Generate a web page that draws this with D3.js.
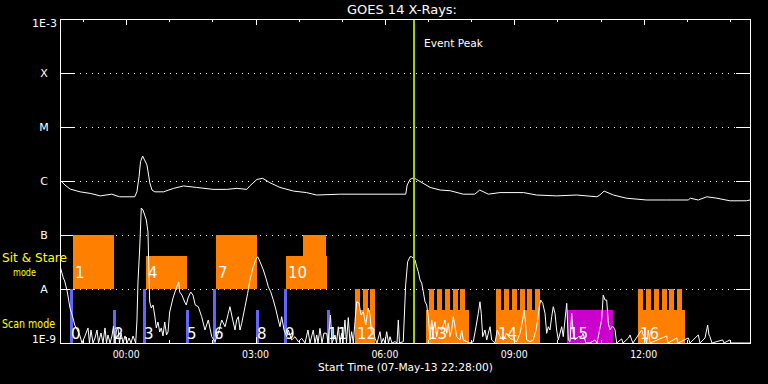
<!DOCTYPE html>
<html><head><meta charset="utf-8">
<script src="https://cdn.jsdelivr.net/npm/d3@7"></script>
<style>
body{margin:0;background:#000;}
svg{display:block;background:#000;}
text{font-family:"DejaVu Sans",sans-serif;fill:#fff;}
</style>
</head><body>
<svg id="chart" width="768" height="384"></svg>
<script>
// ---------------- DATA ----------------
const titleText = "GOES 14 X-Rays:";
const startTime = "2013-05-07T22:28:00Z";
const spanMinutes = 960;               // plotted range, minutes after start
const xAxisTitle = "Start Time (07-May-13 22:28:00)";
const levelLabels = ["1E-9", "A", "B", "C", "M", "X", "1E-3"];
const levelValues = [1e-9, 1e-8, 1e-7, 1e-6, 1e-5, 1e-4, 1e-3];
const eventPeakMinute = 491;
const eventLabel = "Event Peak";
const modeLabels = ["Sit & Stare", "mode", "Scan mode"];

// GOES long channel (1-8 A): [minutes after start, W/m^2]
const longChannel = [[1,1.01e-6],[7,8.4e-7],[14,7.1e-7],[28,6.3e-7],[42,5.9e-7],[56,5.3e-7],[72,5.7e-7],[83,5.1e-7],[104,5.1e-7],[107,6.3e-7],
[110,1.2e-6],[112,2.28e-6],[115,2.9e-6],[117,2.55e-6],[121,1.98e-6],[125,9.2e-7],[128,6.8e-7],[132,6.3e-7],[144,6.3e-7],[158,7.3e-7],
[172,8.1e-7],[190,7.6e-7],[213,7.0e-7],[232,7.0e-7],[246,7.3e-7],[260,7.0e-7],[264,8.1e-7],[274,1.07e-6],[282,1.12e-6],[292,9.3e-7],
[306,7.6e-7],[325,6.5e-7],[343,6.1e-7],[357,5.5e-7],[390,5.7e-7],[473,5.7e-7],[481,5.7e-7],[483,8.4e-7],[487,1.07e-6],[492,1.15e-6],
[496,1.07e-6],[505,9.1e-7],[515,7.6e-7],[529,6.8e-7],[543,6.6e-7],[561,5.7e-7],[577,5.7e-7],[584,6.8e-7],[596,5.7e-7],[612,6.1e-7],
[645,6.1e-7],[663,5.5e-7],[691,5.3e-7],[719,5.5e-7],[747,5.1e-7],[751,5.5e-7],[757,6.5e-7],[770,5.5e-7],[788,4.8e-7],[816,4.45e-7],
[844,4.45e-7],[874,4.45e-7],[877,4.8e-7],[888,4.45e-7],[900,5.1e-7],[914,4.8e-7],[932,4.3e-7],[955,4.3e-7],[960,4.45e-7]];

// GOES short channel (0.5-4 A): [minutes after start, W/m^2]
const shortChannel = [[1,2.4e-8],[4.6,1.6e-8],[6.5,1.41e-8],[10.2,8.8e-9],[13.9,4.45e-9],[18.1,2.9e-9],[20.5,2.15e-9],[22.7,1.9e-9],[27.4,1.41e-9],
[30.6,1e-9],[34.8,1.35e-9],[39,1.9e-9],[41,1e-9],[43.1,1.74e-9],[45.9,1e-9],[48.7,1.24e-9],[51.5,1.74e-9],[53.6,1e-9],[57,1.53e-9],[59.8,1e-9],[62.6,1.9e-9],[64.7,1e-9],[66.8,1.41e-9],[69.6,1e-9],[72.3,1.35e-9],[74.4,2.06e-9],[76.5,1e-9],[78.6,1.74e-9],[80.7,1.9e-9],[82.8,1e-9],[84.9,1.53e-9],[87.7,1e-9],[90.4,1.35e-9],[93.2,1e-9],[96,1.24e-9],[98.8,1e-9],[101.6,1.35e-9],[105.3,1e-9],
[107.1,2.67e-9],[108.5,1.35e-8],[110.9,5.74e-8],[113.1,3.16e-7],[115.5,2.9e-7],[117.8,2.35e-7],[120.1,1.9e-7],[122.4,1.14e-7],[123.4,3.16e-8],[124.8,5.74e-9],[127,4.45e-9],[129.4,5.05e-9],[131.7,3.3e-9],[134,1.9e-9],[136.3,2.45e-9],[138.7,1.6e-9],[140.9,1.9e-9],[143.3,1.35e-9],[145.7,2.45e-9],[148.2,1.41e-9],[150.3,1.6e-9],[152.6,3.75e-9],[157.2,6.8e-9],[161.8,1.04e-8],[165.1,1.35e-8],[166.5,8.8e-9],[169.7,7.7e-9],[173.5,5.74e-9],[175.7,5.05e-9],[178.1,6.8e-9],[181.8,8.8e-9],[185,7.7e-9],[188.2,5.05e-9],[192.4,4.7e-9],[197.1,3.07e-9],[201.7,1.74e-9],[206.3,2.67e-9],[211.1,1.31e-9],[215.7,1.06e-9],[220.2,1.51e-9],[225,2.67e-9],[229.6,2e-9],[234.2,3.55e-9],[236.5,4.7e-9],[240.3,2.67e-9],[243.5,1.74e-9],[245.8,2.67e-9],[248.1,3.07e-9],[250.4,1.74e-9],[252.8,2.3e-9],[257.4,4.7e-9],[261.1,8.3e-9],[264.3,1.47e-8],[268.9,2.59e-8],[272.7,3.55e-8],[275.1,3.96e-8],[278.3,3.2e-8],[282.9,2.25e-8],[286.6,1.58e-8],[289.8,1.1e-8],[293.1,8.9e-9],[296.8,6.25e-9],[300.5,4.1e-9],[303.7,2.67e-9],[306.1,2e-9],[308.4,3.07e-9],[311.7,1.74e-9],[315.4,1.31e-9],[317.6,1.74e-9],[322.4,1.14e-9],[327,1.31e-9],[331.5,1.06e-9],[336.3,1.22e-9],[340.9,1e-9],
[345,1.74e-9],[347.8,1e-9],[352.4,1.74e-9],[354.8,1e-9],[357.2,1.41e-9],[359,1e-9],[361.7,1.87e-9],[364.5,1e-9],[367.3,1.53e-9],[371.1,1.51e-9],[372.9,1e-9],[376.3,3.3e-9],[378.4,1e-9],[382.6,1.41e-9],[384.7,1e-9],[387.2,2e-9],[389.6,1e-9],[391.9,1.51e-9],[393.7,1e-9],[396.5,2.67e-9],[398.6,1e-9],[401.1,2.96e-9],[403.5,1e-9],[405.8,1.62e-9],[408.1,1e-9],[410.4,2.48e-9],[412.8,5.8e-9],[416,5.5e-9],[418.8,3.3e-9],[422,3.8e-9],[425.3,2.15e-9],[428.9,4.45e-9],[431.3,3.3e-9],[433.6,1.41e-9],[435.9,1.74e-9],[438.3,1.22e-9],[441,1e-9],[445.2,1.62e-9],[447.3,1e-9],[449.8,1.22e-9],[452.2,1e-9],[454.5,1.62e-9],[457,1e-9],[459.1,1.31e-9],[461.9,1e-9],[466.1,1.06e-9],[468.9,1e-9],[470.7,2.67e-9],[472.3,1e-9],[477.6,1.06e-9],
[480.9,1.19e-8],[483.7,3.2e-8],[487,3.96e-8],[489.3,3.96e-8],[493.9,3.45e-8],[496.3,2.59e-8],[498.5,2.09e-8],[500.9,1.47e-8],[503.2,1.28e-8],[505.5,8.9e-9],[507.8,5.8e-9],[510.2,5.05e-9],[512.4,3.07e-9],[514.8,1.14e-9],[517.1,2.67e-9],[519.4,1.74e-9],[521.7,2.48e-9],[524.1,1.31e-9],[526.3,2e-9],[531.1,1.74e-9],[535.6,2.67e-9],[538,1.51e-9],[540.2,2.32e-9],[542.6,1.31e-9],[545,1.74e-9],[547.2,3.07e-9],[549.6,2e-9],[551.9,1.31e-9],[556.5,1.14e-9],[558.9,1.74e-9],[561.1,1.14e-9],[565.8,1.06e-9],[570.4,1e-9],[575,1.06e-9],[578.8,2e-9],[582,3.55e-9],[584.3,5.8e-9],[586.1,3.55e-9],[588.1,1.31e-9],[591.3,1.74e-9],[593.7,1.14e-9],[595.9,1.51e-9],[598.3,2e-9],[600.6,1.14e-9],[605.2,1e-9],[608.4,1.74e-9],[612.2,1.31e-9],[616.8,1.14e-9],[621.5,1.51e-9],[626.1,1.22e-9],[630.7,1.14e-9],[635.4,1.06e-9],[640,1.51e-9],[643.8,2.67e-9],[645.6,4.1e-9],[647.4,2.67e-9],[649.3,1.14e-9],[653.9,1.06e-9],[658.5,1.14e-9],[662.3,1.74e-9],[664.6,2.67e-9],[666.9,4.7e-9],[668.8,6.25e-9],[671.6,5.45e-9],[674.8,3.55e-9],[677.1,1.51e-9],[679.4,2e-9],[681.7,1.74e-9],[684.1,3.07e-9],[686.3,4.7e-9],[688.7,3.55e-9],[691,1.74e-9],[693.3,1.14e-9],[698,2e-9],[700.2,1.31e-9],[702.6,2.67e-9],[705,5.45e-9],[707.2,1.14e-9],[709.6,1.06e-9],[711.9,3.55e-9],[714.2,1.51e-9],[716.5,1.14e-9],[721.1,1.31e-9],[725.8,1.31e-9],[727.7,1.51e-9],[731.8,1e-9],[737.4,1e-9],[744.3,1.14e-9],[747.1,1e-9],
[753.6,2.67e-9],[755.8,7.7e-9],[758.3,6.25e-9],[760.6,6.25e-9],[762.9,2.32e-9],[765.2,1.74e-9],[767.6,2e-9],[769.8,2e-9],[772.2,1.74e-9],[774.5,1e-9],[781.5,1.19e-9],[783.3,1e-9],[791,1.24e-9],[793.1,1.41e-9],[795.4,1.14e-9],[797.2,1e-9],[809.3,1.74e-9],[811.8,1.35e-9],[813.9,1.31e-9],[816,1e-9],[818.5,1.74e-9],[820.9,1e-9],[844.1,1.35e-9],[845.9,1e-9],[858,1.24e-9],[859.8,1e-9],[874.1,1.24e-9],[876.5,1e-9],[888.1,1.41e-9],[890.4,1e-9],[897.4,1.24e-9],[901.1,2.15e-9],[902.9,1.41e-9],[904.3,1.31e-9],[907.1,1e-9],[922,1.14e-9],[923.8,1e-9],[932.1,1.14e-9],[933.5,1e-9],[960,1e-9]];

// Scan-mode observations (blue)
const scanLabels = ["0", "2", "3", "5", "6", "8", "9", "11"];
const scanStart  = [14, 74, 116, 175, 213, 273, 312, 372];
const scanEnd    = [18, 78, 120, 179, 217, 277, 316, 376];
const scanTop    = [1e-8, 4.1e-9, 1e-8, 4.1e-9, 1e-8, 4.1e-9, 1e-8, 4.1e-9];

// Sit & stare observations (orange)
const stareLabels = ["1", "4", "7", "10"];
const stareStart  = [18, 120, 217, 314];
const stareEnd    = [75, 177, 274, 372];
const stareTop    = [1e-7, 4.1e-8, 1e-7, 4.1e-8];
const stareExtraStart = [338];
const stareExtraEnd   = [370];
const stareExtraTop   = [1e-7];

// Repeated short pointings (orange combs)
const combLabels = ["12", "13", "14", "16"];
const combStart  = [410, 509, 607, 804];
const combEnd    = [438, 569, 668, 870];
const combBase   = 4.1e-9;
const combTop    = 1e-8;
const combTeeth  = [[410, 422, 431], [513, 525, 536, 547, 557], [607, 618, 629, 640, 650, 661], [804, 815, 826, 838, 847, 858]];
const toothMinutes = 7;

// Other observation (magenta)
const otherLabels = ["15"];
const otherStart  = [705];
const otherEnd    = [769];
const otherTop    = [4.1e-9];

// ---------------- DRAW ----------------
const svg = d3.select("#chart");
const L = 60, R = 750, T = 19, B = 343;
const t0 = new Date(startTime);
const toDate = m => new Date(t0.getTime() + m * 60000);
const x = d3.scaleUtc().domain([t0, toDate(spanMinutes)]).range([L, R]);
const y = d3.scaleLog().domain([1e-9, 1e-3]).range([B, T]).clamp(true);
const xm = m => x(toDate(m));

const ORANGE = "#ff8000", BLUE = "#6464ff", MAGENTA = "#cc00cc", GREEN = "#a2d000", YELLOW = "#ffff00";

// dotted grid + side ticks at the GOES class levels
const inner = levelValues.slice(1, -1);
svg.append("g").selectAll("line").data(inner).join("line")
  .attr("x1", L + 14).attr("x2", R - 14)
  .attr("y1", d => Math.round(y(d)) + 0.5).attr("y2", d => Math.round(y(d)) + 0.5)
  .attr("stroke", "#fff").attr("stroke-width", 1).attr("stroke-dasharray", "1,5");
const sideTicks = svg.append("g").attr("stroke", "#fff").attr("stroke-width", 1);
inner.forEach(d => {
  const yy = Math.round(y(d)) + 0.5;
  sideTicks.append("line").attr("x1", L).attr("x2", L + 14).attr("y1", yy).attr("y2", yy);
  sideTicks.append("line").attr("x1", R - 14).attr("x2", R).attr("y1", yy).attr("y2", yy);
});

// observation blocks
const gb = svg.append("g").attr("shape-rendering", "crispEdges");
function block(s, e, top, bottom, color) {
  const x0 = Math.round(xm(s)), x1 = Math.round(xm(e));
  const y0 = Math.round(y(top)), y1 = Math.round(y(bottom));
  gb.append("rect").attr("x", x0).attr("y", y0).attr("width", Math.max(1, x1 - x0)).attr("height", y1 - y0).attr("fill", color);
}
stareStart.forEach((s, i) => block(s, stareEnd[i], stareTop[i], 1e-8, ORANGE));
stareExtraStart.forEach((s, i) => block(s, stareExtraEnd[i], stareExtraTop[i], 1e-8, ORANGE));
combStart.forEach((s, i) => {
  block(s, combEnd[i], combBase, 1e-9, ORANGE);
  combTeeth[i].forEach(t => block(t, Math.min(t + toothMinutes, combEnd[i]), combTop, combBase, ORANGE));
});
otherStart.forEach((s, i) => block(s, otherEnd[i], otherTop[i], 1e-9, MAGENTA));
scanStart.forEach((s, i) => block(s, scanEnd[i], scanTop[i], 1e-9, BLUE));

// block numbers
const gl = svg.append("g").style("font-size", "15px");
stareStart.forEach((s, i) => gl.append("text").attr("x", Math.round(xm(s)) + 2).attr("y", y(1e-8) - 11).text(stareLabels[i]));
scanStart.forEach((s, i) => gl.append("text").attr("x", Math.round(xm(s)) + 1).attr("y", B - 4).text(scanLabels[i]));
combStart.forEach((s, i) => gl.append("text").attr("x", Math.round(xm(s)) + 2).attr("y", B - 4).text(combLabels[i]));
otherStart.forEach((s, i) => gl.append("text").attr("x", Math.round(xm(s)) + 2).attr("y", B - 4).text(otherLabels[i]));

// flux curves
const line = d3.line().x(d => xm(d[0])).y(d => y(d[1]));
[longChannel, shortChannel].forEach(series => {
  svg.append("path").datum(series).attr("d", line)
    .attr("fill", "none").attr("stroke", "#fff").attr("stroke-width", 1).attr("stroke-linejoin", "round");
});

// event peak marker
const ex = Math.round(xm(eventPeakMinute)) + 1;
svg.append("line").attr("x1", ex).attr("x2", ex).attr("y1", T).attr("y2", B)
  .attr("stroke", GREEN).attr("stroke-width", 2);
svg.append("text").attr("x", ex + 10).attr("y", T + 28).style("font-size", "10.5px")
  .attr("textLength", 59).attr("lengthAdjust", "spacingAndGlyphs").text(eventLabel);

// frame
svg.append("rect").attr("x", L + 0.5).attr("y", T + 0.5).attr("width", R - L).attr("height", B - T)
  .attr("fill", "none").attr("stroke", "#fff").attr("stroke-width", 1);

// time ticks (hourly minor, 3-hourly major) top and bottom
const hourTicks = x.ticks(d3.utcHour.every(1));
const gt = svg.append("g").attr("stroke", "#fff").attr("stroke-width", 1);
hourTicks.forEach(d => {
  const major = d.getUTCHours() % 3 === 0;
  const len = major ? 6 : 3;
  const xx = Math.round(x(d)) + 0.5;
  gt.append("line").attr("x1", xx).attr("x2", xx).attr("y1", T).attr("y2", T + len);
  gt.append("line").attr("x1", xx).attr("x2", xx).attr("y1", B).attr("y2", B - len);
});
const fmt = d3.utcFormat("%H:%M");
svg.append("g").style("font-size", "10.5px").selectAll("text")
  .data(hourTicks.filter(d => d.getUTCHours() % 3 === 0)).join("text")
  .attr("x", d => x(d)).attr("y", B + 15).attr("text-anchor", "middle")
  .attr("textLength", 27).attr("lengthAdjust", "spacingAndGlyphs").text(d => fmt(d));

// y labels
const gy = svg.append("g").style("font-size", "11px");
levelValues.forEach((v, i) => {
  const lab = levelLabels[i];
  if (i === levelValues.length - 1) {
    gy.append("text").attr("x", 57).attr("y", y(v) + 8).attr("text-anchor", "end")
      .attr("textLength", 25).attr("lengthAdjust", "spacingAndGlyphs").text(lab);
  } else if (i === 0) {
    gy.append("text").attr("x", 56).attr("y", y(v)).attr("text-anchor", "end")
      .attr("textLength", 24).attr("lengthAdjust", "spacingAndGlyphs").text(lab);
  } else {
    gy.append("text").attr("x", 44).attr("y", y(v) + 4).attr("text-anchor", "middle").text(lab);
  }
});

// mode labels (yellow)
const gm = svg.append("g");
gm.append("text").attr("x", 2).attr("y", 262).style("font-size", "11.5px").attr("textLength", 65).attr("lengthAdjust", "spacingAndGlyphs").style("fill", YELLOW).text(modeLabels[0]);
gm.append("text").attr("x", 13).attr("y", 276).style("font-size", "11px").attr("textLength", 23).attr("lengthAdjust", "spacingAndGlyphs").style("fill", YELLOW).text(modeLabels[1]);
gm.append("text").attr("x", 2).attr("y", 328).style("font-size", "12px").attr("textLength", 53).attr("lengthAdjust", "spacingAndGlyphs").style("fill", YELLOW).text(modeLabels[2]);

// title and x title
svg.append("text").attr("x", 402).attr("y", 14).attr("text-anchor", "middle").style("font-size", "11.5px")
  .attr("textLength", 110).attr("lengthAdjust", "spacingAndGlyphs").text(titleText);
svg.append("text").attr("x", 405.5).attr("y", 371).attr("text-anchor", "middle").style("font-size", "11px")
  .attr("textLength", 175).attr("lengthAdjust", "spacingAndGlyphs").text(xAxisTitle);
</script>
</body></html>
